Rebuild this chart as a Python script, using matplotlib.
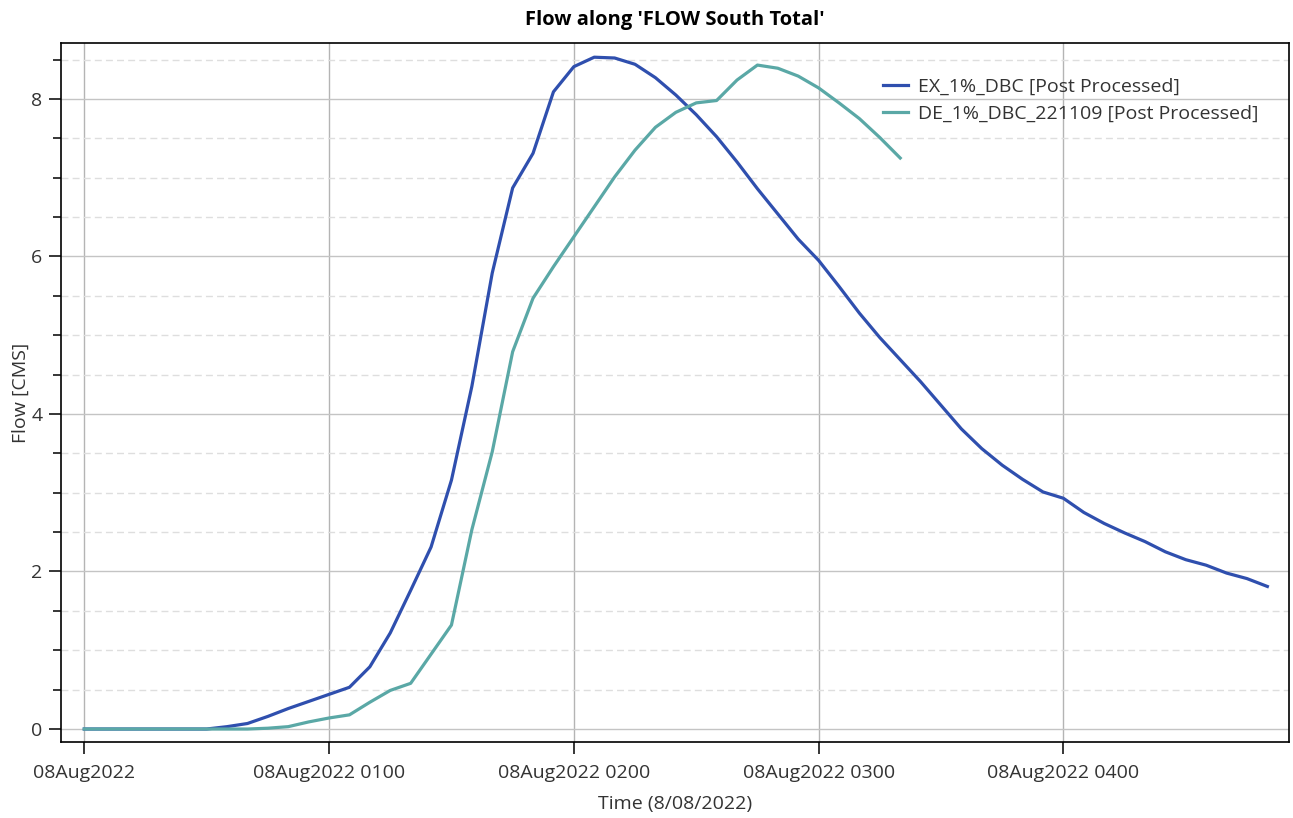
import numpy as np
import pandas as pd
import matplotlib
matplotlib.use('Agg')
import matplotlib.pyplot as plt
import matplotlib.dates as mdates
from matplotlib.ticker import MultipleLocator, FuncFormatter

plt.rcParams['font.family'] = ['Open Sans', 'DejaVu Sans']

inicio = pd.Timestamp('2022-08-08 00:00')

# EX_1%_DBC, every 5 min from 00:00 to 04:50
fluxo_ex = [0.0, 0.0, 0.0, 0.0, 0.0, 0.0, 0.0, 0.03, 0.07, 0.16,
            0.26, 0.35, 0.44, 0.53, 0.79, 1.22, 1.76, 2.31, 3.16, 4.35,
            5.79, 6.87, 7.31, 8.09, 8.41, 8.53, 8.52, 8.44, 8.27, 8.05,
            7.80, 7.52, 7.20, 6.86, 6.54, 6.22, 5.95, 5.62, 5.28, 4.97,
            4.69, 4.41, 4.11, 3.81, 3.56, 3.35, 3.17, 3.01, 2.93, 2.75,
            2.61, 2.49, 2.38, 2.25, 2.15, 2.08, 1.98, 1.91, 1.81]

# DE_1%_DBC_221109, every 5 min from 00:00 to 03:20
fluxo_de = [0.0, 0.0, 0.0, 0.0, 0.0, 0.0, 0.0, 0.0, 0.0, 0.01,
            0.03, 0.09, 0.14, 0.18, 0.34, 0.49, 0.58, 0.95, 1.32, 2.53,
            3.52, 4.79, 5.47, 5.87, 6.25, 6.63, 7.01, 7.35, 7.64, 7.83,
            7.95, 7.98, 8.24, 8.43, 8.39, 8.29, 8.14, 7.95, 7.75, 7.51,
            7.25]

nomes = ['EX_1%_DBC [Post Processed]', 'DE_1%_DBC_221109 [Post Processed]']
cores = ['#2f4fae', '#5aa8a6']

tempo_ex = pd.date_range(inicio, periods=len(fluxo_ex), freq='5min')
tempo_de = pd.date_range(inicio, periods=len(fluxo_de), freq='5min')


def rotulo_tempo(x, pos):
    t = mdates.num2date(x)
    if t.hour == 0 and t.minute == 0:
        return t.strftime('%d%b%Y')
    return t.strftime('%d%b%Y %H%M')


fs = 14

fig = plt.figure(figsize=(12.93, 8.18), dpi=100)
ax = fig.add_axes([0.0472, 0.0929, 0.9497, 0.8545])

ax.plot(tempo_ex, fluxo_ex, color=cores[0], lw=2.3, label=nomes[0], zorder=3)
ax.plot(tempo_de, fluxo_de, color=cores[1], lw=2.3, label=nomes[1], zorder=3)

ax.set_xlim(inicio - pd.Timedelta(minutes=5.7), inicio + pd.Timedelta(minutes=295.3))
ax.set_ylim(-0.165, 8.71)

ax.xaxis.set_major_locator(mdates.HourLocator())
ax.xaxis.set_major_formatter(FuncFormatter(rotulo_tempo))
ax.yaxis.set_major_locator(MultipleLocator(2))
ax.yaxis.set_minor_locator(MultipleLocator(0.5))
ax.yaxis.set_major_formatter(FuncFormatter(lambda v, p: f'{v:g}'))

ax.grid(which='major', axis='y', color='#c4c4c4', lw=1.0, zorder=0)
ax.grid(which='major', axis='x', color='#b4b4b4', lw=1.0, zorder=0)
ax.grid(which='minor', axis='y', color='#dedede', lw=1.0, ls=(0, (5, 3)), zorder=0)

ax.tick_params(which='major', length=8.5, width=1.1, labelsize=fs, colors='#000000',
               labelcolor='#333333')
ax.tick_params(which='minor', length=5.5, width=1.1)
ax.tick_params(axis='y', pad=5)
ax.tick_params(axis='x', pad=7)
for lado in ax.spines.values():
    lado.set_linewidth(1.2)

ax.set_title("Flow along 'FLOW South Total'", fontsize=14.5, fontweight='bold', pad=13)
ax.set_xlabel('Time (8/08/2022)', fontsize=fs, color='#333333', labelpad=10)
ax.set_ylabel('Flow [CMS]', fontsize=fs, color='#333333', labelpad=1)

ax.legend(loc='upper left', bbox_to_anchor=(0.655, 0.975), frameon=False, fontsize=fs,
          handlelength=1.3, handletextpad=0.5, labelspacing=0.45, labelcolor='#333333')

fig.savefig('out.png', dpi=100)
